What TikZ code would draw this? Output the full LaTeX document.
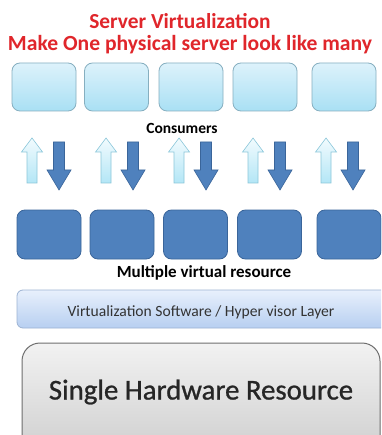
\documentclass[tikz,border=0pt]{standalone}
\usepackage{fontspec}
\setmainfont{Carlito}
\newfontfamily\semibold[FakeBold=0.9]{Carlito}
\definecolor{titlered}{HTML}{E0262B}
\definecolor{consborder}{HTML}{86AFC0}
\definecolor{constop}{HTML}{DDF2FB}
\definecolor{consbot}{HTML}{A9E0F4}
\definecolor{darkfill}{HTML}{4F81BD}
\definecolor{darkborder}{HTML}{3A659A}
\definecolor{hvtop}{HTML}{E8F0FC}
\definecolor{hvbot}{HTML}{B7CFF1}
\definecolor{hvborder}{HTML}{9DB3D3}
\definecolor{hwtop}{HTML}{F2F2F2}
\definecolor{hwbot}{HTML}{CFCFCF}
\definecolor{hwborder}{HTML}{6E6E6E}
\definecolor{uptop}{HTML}{F2FBFE}
\definecolor{upbot}{HTML}{B3E6F6}
\definecolor{upborder}{HTML}{8CC7DA}
\tikzset{
  consbox/.style={draw=consborder, line width=0.8pt, rounded corners=8pt, top color=constop, bottom color=consbot, minimum width=64pt, minimum height=48pt, inner sep=0pt},
  virtbox/.style={draw=darkborder, line width=0.8pt, rounded corners=8pt, fill=darkfill, minimum width=64pt, minimum height=49pt, inner sep=0pt},
  uparrow/.style={draw=upborder, line width=0.6pt, top color=uptop, bottom color=upbot},
  downarrow/.style={draw=darkborder, line width=0.6pt, fill=darkfill},
  lbl/.style={font=\bfseries, inner sep=0pt}
}
\begin{document}
\begin{tikzpicture}[x=1pt,y=-1pt]
\useasboundingbox (0,0) rectangle (381,435);
\clip (0,0) rectangle (381,435);
\fill[white] (0,0) rectangle (381,435);
% titles
\node[lbl, text=titlered, font=\bfseries\fontsize{21.4}{24}\selectfont] (t1) at (180,21) {Server Virtualization};
\node[lbl, text=titlered, font=\bfseries\fontsize{21.6}{24}\selectfont] (t2) at (190,45) {Make One physical server look like many};
% consumer boxes
\foreach \i/\x in {1/44,2/116.5,3/191,4/265,5/344}{
  \node[consbox] (c\i) at (\x,87) {};
}
\node[lbl, font=\bfseries\fontsize{15.5}{17}\selectfont] (cons) at (182,128) {Consumers};
% arrows
\foreach \c in {32,106,179,253,326}{
  \draw[uparrow] (\c-5,183) -- (\c-5,152) -- (\c-10.5,152) -- (\c,138) -- (\c+10.5,152) -- (\c+5,152) -- (\c+5,183) -- cycle;
  \pgfmathsetmacro\d{\c+27}
  \draw[downarrow] (\d-5.5,142) -- (\d+5.5,142) -- (\d+5.5,170) -- (\d+12,170) -- (\d,190) -- (\d-12,170) -- (\d-5.5,170) -- cycle;
}
% virtual resource boxes
\foreach \i/\x in {1/49,2/122,3/195.5,4/269.5,5/349}{
  \node[virtbox] (v\i) at (\x,234.5) {};
}
\node[lbl, font=\bfseries\fontsize{17}{19}\selectfont] (multi) at (204,273) {Multiple virtual resource};
% hypervisor layer
\node[draw=hvborder, line width=0.8pt, rounded corners=6pt, top color=hvtop, bottom color=hvbot, minimum width=370pt, minimum height=38pt, inner sep=0pt] (hv) at (202,309) {};
\node[inner sep=0pt, font=\fontsize{15.6}{18}\selectfont, text=black!80] (hvt) at (201,312) {Virtualization Software / Hyper visor Layer};
% hardware
\node[draw=hwborder, line width=1pt, rounded corners=18pt, top color=hwtop, bottom color=hwbot, minimum width=358pt, minimum height=110pt, inner sep=0pt] (hw) at (201,398) {};
\node[inner sep=0pt, font=\semibold\fontsize{28.8}{32}\selectfont, text=black!85] (hwt) at (201,392) {Single Hardware Resource};
\end{tikzpicture}
\end{document}
